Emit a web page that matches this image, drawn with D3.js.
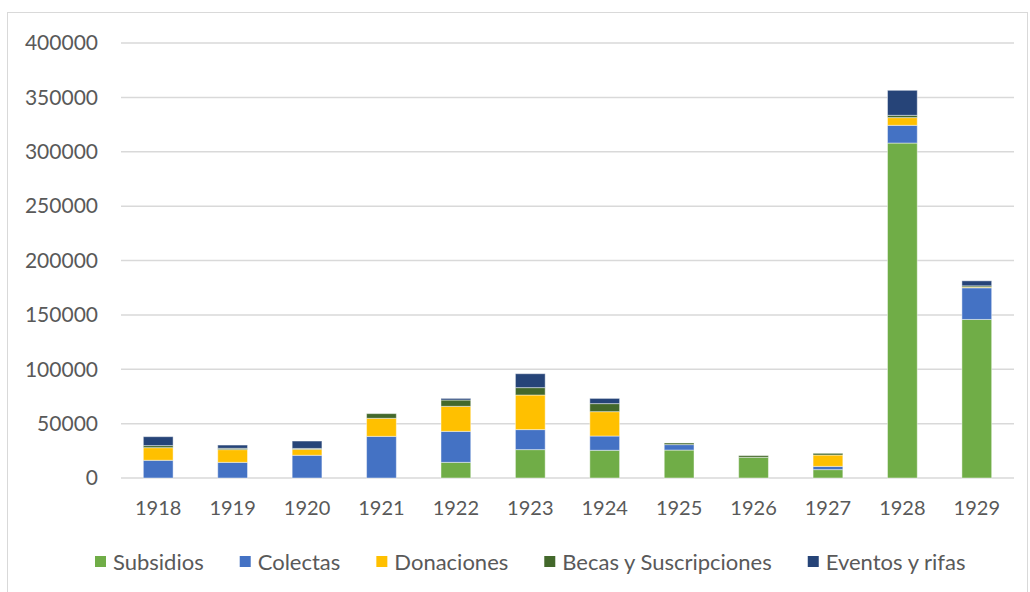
<!DOCTYPE html>
<html>
<head>
<meta charset="utf-8">
<script src="https://cdn.jsdelivr.net/npm/d3@7"></script>
<style>
  body { margin: 0; background: #fff; }
  svg text { font-family: Lato, "Open Sans", sans-serif; fill: #595959; }
</style>
</head>
<body>
<svg id="chart" width="1030" height="592"></svg>
<script>
// data
const years = ["1918","1919","1920","1921","1922","1923","1924","1925","1926","1927","1928","1929"];
const subsidios   = [0, 0, 0, 0, 14400, 26100, 25500, 25700, 19000, 7700, 308000, 145800];
const colectas    = [16300, 14400, 20900, 38300, 28500, 18400, 13100, 5000, 0, 3000, 16300, 29100];
const donaciones  = [11600, 11700, 5500, 16600, 23000, 31800, 22400, 0, 0, 10400, 7100, 600];
const becas       = [1900, 1200, 800, 4300, 5800, 6800, 7400, 1500, 1600, 1600, 2100, 1200];
const eventos     = [8200, 3000, 6800, 0, 1500, 12800, 4800, 0, 0, 0, 23000, 4600];
const seriesNames = ["Subsidios", "Colectas", "Donaciones", "Becas y Suscripciones", "Eventos y rifas"];
const seriesColors = ["#70AD47", "#4472C4", "#FFC000", "#43682B", "#264478"];
const yTicks = [0, 50000, 100000, 150000, 200000, 250000, 300000, 350000, 400000];

const cols = [subsidios, colectas, donaciones, becas, eventos];
const rows = years.map((yr, i) => {
  let r = {year: yr};
  seriesNames.forEach((k, j) => r[k] = cols[j][i]);
  return r;
});

const svg = d3.select("#chart");

// outer border
svg.append("rect")
  .attr("x", 7.5).attr("y", 12.5)
  .attr("width", 1020).attr("height", 600)
  .attr("fill", "none").attr("stroke", "#d9d9d9");

const plotLeft = 121, plotRight = 1014, plotTop = 43, plotBottom = 478;

const x = d3.scaleBand().domain(years).range([plotLeft, plotRight])
  .paddingInner(0.6).paddingOuter(0.3);
const y = d3.scaleLinear().domain([0, 400000]).range([plotBottom, plotTop]);
const color = d3.scaleOrdinal().domain(seriesNames).range(seriesColors);

// gridlines
svg.append("g").selectAll("line")
  .data(yTicks).enter().append("line")
  .attr("x1", plotLeft).attr("x2", plotRight)
  .attr("y1", d => y(d)).attr("y2", d => y(d))
  .attr("stroke", "#d9d9d9").attr("stroke-width", 1.5);

// y labels
svg.append("g").selectAll("text")
  .data(yTicks).enter().append("text")
  .attr("x", 98).attr("y", d => y(d))
  .attr("dy", "0.35em")
  .attr("text-anchor", "end")
  .attr("font-size", 21)
  .text(d => d);

// bars
const stack = d3.stack().keys(seriesNames)(rows);
svg.append("g").selectAll("g")
  .data(stack).enter().append("g")
  .attr("fill", d => color(d.key))
  .selectAll("rect")
  .data(d => d).enter().append("rect")
  .attr("x", d => x(d.data.year))
  .attr("width", x.bandwidth())
  .attr("y", d => y(d[1]))
  .attr("height", d => y(d[0]) - y(d[1]))
  .attr("stroke", "#ffffff").attr("stroke-opacity", 0.45).attr("stroke-width", 1);

// x labels
svg.append("g").selectAll("text")
  .data(years).enter().append("text")
  .attr("x", d => x(d) + x.bandwidth() / 2)
  .attr("y", 508).attr("dy", "0.35em")
  .attr("text-anchor", "middle")
  .attr("font-size", 20)
  .text(d => d);

// legend
const legend = svg.append("g");
let lx = 95;
seriesNames.forEach((name, i) => {
  legend.append("rect")
    .attr("x", lx).attr("y", 556)
    .attr("width", 11).attr("height", 11)
    .attr("fill", seriesColors[i]);
  const t = legend.append("text")
    .attr("x", lx + 18).attr("y", 562).attr("dy", "0.35em")
    .attr("font-size", 22)
    .text(name);
  lx += 18 + t.node().getComputedTextLength() + 36;
});
</script>
</body>
</html>
